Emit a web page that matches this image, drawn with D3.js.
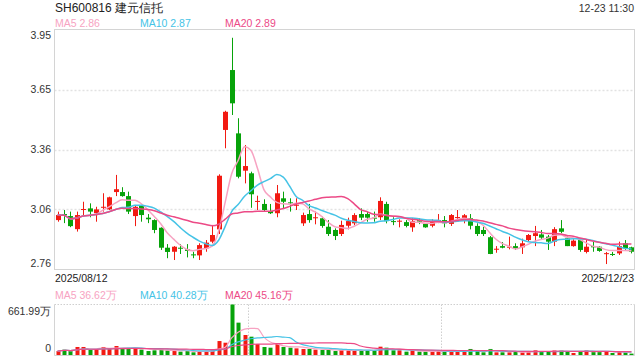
<!DOCTYPE html>
<html>
<head>
<meta charset="utf-8">
<script src="https://cdn.jsdelivr.net/npm/d3@7"></script>
<style>
  body { margin:0; background:#fff; }
  text { font-family: "Liberation Sans", Arial, sans-serif; }
</style>
</head>
<body>
<div id="chart"></div>
<script>
// daily K data 2025/08/12 - 2025/12/23 (90 trading days)
const opens  = [3.005,3.035,3.025,2.960,3.055,3.063,3.039,3.066,3.058,3.144,
                3.144,3.124,3.025,3.075,3.017,3.005,2.967,2.868,2.848,2.868,
                2.860,2.835,2.830,2.865,2.898,2.959,3.452,3.749,3.435,3.250,
                3.237,3.097,3.085,3.050,3.039,3.113,3.093,3.076,2.989,3.035,
                3.014,3.014,2.972,2.956,2.936,2.977,2.989,3.035,3.035,3.017,
                3.019,3.085,3.000,2.999,2.995,2.969,3.005,2.986,2.977,2.997,
                3.005,2.986,3.017,3.015,3.014,2.976,2.956,2.920,2.860,2.876,
                2.868,2.876,2.870,2.906,2.926,2.934,2.923,2.898,2.964,2.915,
                2.876,2.906,2.847,2.876,2.873,2.838,2.837,2.840,2.890,2.870];
const closes = [3.030,3.029,2.975,3.030,3.060,3.047,3.058,3.071,3.118,3.158,
                3.124,3.047,3.071,3.030,3.009,2.956,2.868,2.847,2.873,2.863,
                2.852,2.830,2.881,2.893,2.931,3.225,3.542,3.584,3.220,3.273,
                3.133,3.100,3.055,3.039,3.138,3.096,3.088,3.081,3.030,3.005,
                3.019,2.976,2.936,2.926,2.981,3.000,3.030,3.017,3.017,3.012,
                3.100,3.000,2.995,3.002,2.976,3.000,2.997,2.969,3.000,3.005,
                2.989,3.030,3.020,3.029,2.977,2.936,2.936,2.837,2.863,2.868,
                2.873,2.865,2.890,2.931,2.940,2.918,2.898,2.960,2.947,2.876,
                2.903,2.857,2.873,2.870,2.852,2.841,2.834,2.876,2.865,2.848];
const highs  = [3.047,3.055,3.047,3.047,3.096,3.088,3.071,3.138,3.121,3.229,
                3.168,3.146,3.075,3.080,3.035,3.009,2.969,2.886,2.876,2.886,
                2.886,2.848,2.890,2.906,2.981,3.232,3.547,3.909,3.510,3.377,
                3.245,3.126,3.108,3.085,3.179,3.146,3.113,3.113,3.042,3.085,
                3.047,3.022,3.005,2.964,3.002,3.017,3.039,3.063,3.047,3.047,
                3.118,3.096,3.019,3.009,3.005,3.014,3.014,2.990,3.009,3.035,
                3.025,3.035,3.055,3.035,3.035,2.989,2.972,2.926,2.876,2.896,
                2.923,2.890,2.913,2.936,2.976,2.956,2.931,2.970,3.005,2.923,
                2.910,2.910,2.906,2.898,2.876,2.847,2.847,2.898,2.906,2.873];
const lows   = [2.997,2.990,2.970,2.948,3.030,3.019,2.997,3.047,3.055,3.124,
                3.121,3.035,2.975,2.997,2.990,2.940,2.857,2.816,2.807,2.837,
                2.820,2.816,2.807,2.848,2.890,2.936,3.361,3.526,3.212,3.187,
                3.066,3.055,3.047,3.035,3.019,3.063,3.047,3.055,2.976,2.992,
                2.984,2.967,2.926,2.906,2.926,2.959,2.980,3.005,2.997,2.997,
                3.005,2.989,2.980,2.969,2.969,2.947,2.985,2.967,2.969,2.990,
                2.969,2.976,3.005,2.989,2.959,2.926,2.926,2.836,2.843,2.865,
                2.860,2.857,2.837,2.898,2.876,2.910,2.857,2.876,2.940,2.876,
                2.873,2.848,2.840,2.848,2.848,2.787,2.827,2.832,2.857,2.840];
// volume, unit 万
const volumes = [52,70,52,105,105,70,70,105,87,118,
                 87,96,96,70,52,61,70,61,52,44,
                 52,35,52,52,61,183,161,661.99,424,262,
                 240,144,105,96,148,105,96,87,79,79,
                 70,66,66,52,66,61,61,61,61,61,
                 109,96,61,61,44,61,44,44,44,52,
                 44,52,44,52,79,52,35,79,35,35,
                 35,44,35,44,61,44,44,61,61,44,
                 26,52,61,44,44,44,26,44,35,18];
const yTicks = [2.76, 3.0575, 3.355, 3.6525, 3.95];
const yTickLabels = ["2.76", "3.06", "3.36", "3.65", "3.95"];
const startDate = "2025/08/12", endDate = "2025/12/23";
const title = "SH600816 建元信托", stamp = "12-23 11:30";
const maPriceLabels = ["MA5 2.86", "MA10 2.87", "MA20 2.89"];
const maVolLabels = ["MA5 36.62万", "MA10 40.28万", "MA20 45.16万"];

const W = 640, H = 360;
const left = 54.5, right = 634.5;
const up = "#f21a12", down = "#07a30a";
const maColors = ["#f7a3c2", "#45c3e6", "#ec4a86"];

function movingAvg(arr, n) {
  return arr.map((d,i) => {
    const s = arr.slice(Math.max(0, i-n+1), i+1);
    return d3.mean(s);
  });
}

const svg = d3.select("#chart").append("svg").attr("width",W).attr("height",H);
const idx = d3.range(closes.length);
const x = d3.scaleBand().domain(idx).range([left,right]).paddingInner(0.25).paddingOuter(0.1);
const cx = i => x(i) + x.bandwidth()/2;
const y = d3.scaleLinear().domain([2.76,3.95]).range([269.5,29.5]);
const yv = d3.scaleLinear().domain([0,661.99]).range([355,304.5]);

// header
svg.append("text").attr("x",55).attr("y",12).attr("font-size",12).attr("fill","#222").text(title);
svg.append("text").attr("x",634).attr("y",12).attr("font-size",10.5).attr("fill","#333").attr("text-anchor","end").text(stamp);
const legX = [55,140,225];
maPriceLabels.forEach((t,k)=> svg.append("text").attr("x",legX[k]).attr("y",27).attr("font-size",10.5).attr("fill",maColors[k]).text(t));
maVolLabels.forEach((t,k)=> svg.append("text").attr("x",legX[k]).attr("y",299).attr("font-size",10.5).attr("fill",maColors[k]).text(t));

// main grid + frame
svg.selectAll(".grid").data(yTicks.slice(1,4)).join("line")
  .attr("x1",left).attr("x2",right).attr("y1",d=>Math.round(y(d))+0.5).attr("y2",d=>Math.round(y(d))+0.5)
  .attr("stroke","#e2e2e2").attr("stroke-width",1.5).attr("stroke-dasharray","2,2");
svg.append("rect").attr("x",left).attr("y",29.5).attr("width",right-left).attr("height",240)
  .attr("fill","none").attr("stroke","#d4d4d4");

// y labels
svg.selectAll(".ylab").data(yTicks).join("text")
  .attr("x",51).attr("y",(d,i)=> i===4 ? y(d)+9 : (i===0 ? y(d)-3 : y(d)+3.8))
  .attr("font-size",10.5).attr("fill","#333").attr("text-anchor","end")
  .text((d,i)=>yTickLabels[i]);

// candles
const g = svg.append("g");
g.selectAll(".wick").data(idx).join("line")
  .attr("x1",i=>Math.round(cx(i))+0.5).attr("x2",i=>Math.round(cx(i))+0.5)
  .attr("y1",i=>y(highs[i])).attr("y2",i=>y(lows[i]))
  .attr("stroke",i=>closes[i]>=opens[i]?up:down).attr("stroke-width",1);
g.selectAll(".body").data(idx).join("rect")
  .attr("x",i=>Math.round(cx(i))+0.5-2.5).attr("width",5)
  .attr("y",i=>y(Math.max(opens[i],closes[i])))
  .attr("height",i=>Math.max(1,Math.abs(y(opens[i])-y(closes[i]))))
  .attr("fill",i=>closes[i]>=opens[i]?up:down);

// MA lines price
const line = d3.line().x((d,i)=>cx(i)).y(d=>y(d)).curve(d3.curveMonotoneX);
[5,10,20].forEach((n,k)=>{
  svg.append("path").datum(movingAvg(closes,n)).attr("d",line)
    .attr("fill","none").attr("stroke",maColors[k]).attr("stroke-width",1.5);
});

// date labels
svg.append("text").attr("x",55).attr("y",282).attr("font-size",10.5).attr("fill","#222").text(startDate);
svg.append("text").attr("x",634).attr("y",282).attr("font-size",10.5).attr("fill","#222").attr("text-anchor","end").text(endDate);

// volume panel
svg.append("line").attr("x1",left).attr("x2",right).attr("y1",304.5).attr("y2",304.5)
  .attr("stroke","#cfcfcf").attr("stroke-dasharray","1.5,1.5");
[1,2].forEach(k=>{
  const xx = Math.round(left + (right-left)*k/3)+0.5;
  svg.append("line").attr("x1",xx).attr("x2",xx).attr("y1",304.5).attr("y2",355)
    .attr("stroke","#cfcfcf").attr("stroke-dasharray","1.5,1.5");
});
svg.append("line").attr("x1",left).attr("x2",left).attr("y1",304.5).attr("y2",355.5).attr("stroke","#d4d4d4");
svg.append("line").attr("x1",right).attr("x2",right).attr("y1",304.5).attr("y2",355.5).attr("stroke","#d4d4d4");
svg.append("line").attr("x1",left).attr("x2",right).attr("y1",355.5).attr("y2",355.5).attr("stroke","#d4d4d4");

svg.selectAll(".vbar").data(idx).join("rect")
  .attr("x",i=>Math.round(cx(i))+0.5-2).attr("width",4)
  .attr("y",i=>yv(volumes[i])).attr("height",i=>355-yv(volumes[i]))
  .attr("fill",i=>closes[i]>=opens[i]?up:down);

const vline = d3.line().x((d,i)=>cx(i)).y(d=>yv(d)).curve(d3.curveMonotoneX);
[5,10,20].forEach((n,k)=>{
  svg.append("path").datum(movingAvg(volumes,n)).attr("d",vline)
    .attr("fill","none").attr("stroke",maColors[k]).attr("stroke-width",1.2);
});

svg.append("text").attr("x",51).attr("y",314.5).attr("font-size",10.5).attr("fill","#333").attr("text-anchor","end").text("661.99万");
svg.append("text").attr("x",51).attr("y",351.5).attr("font-size",10.5).attr("fill","#333").attr("text-anchor","end").text("0");
</script>
</body>
</html>
